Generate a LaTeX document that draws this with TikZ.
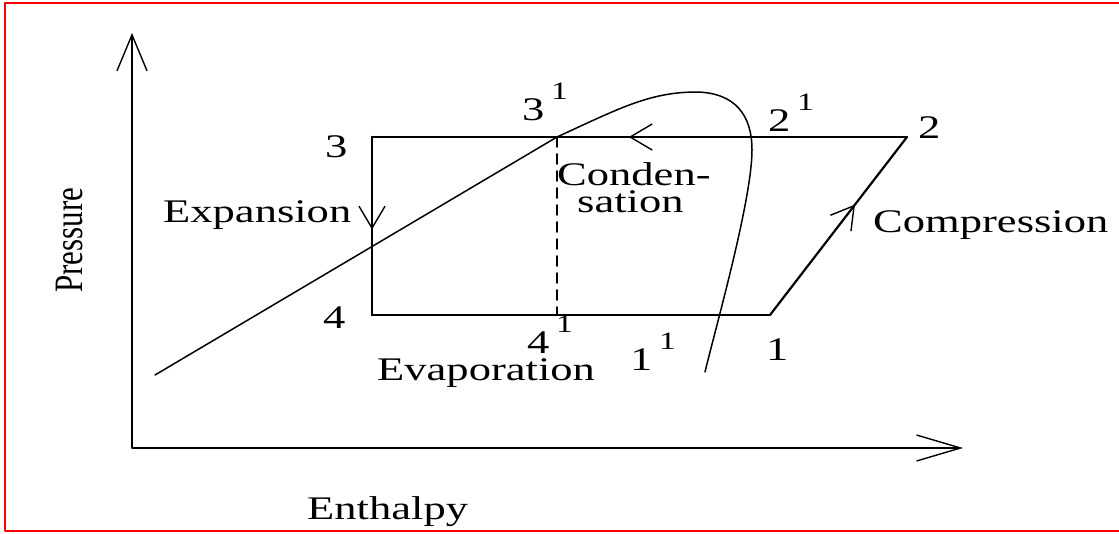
\documentclass[tikz,border=0pt]{standalone}
\usepackage{fontspec}
\setmainfont[FakeStretch=1.35]{Liberation Serif}
\newfontfamily\plainserif{Liberation Serif}
\usepackage{tikz}
\usetikzlibrary{arrows.meta,decorations.markings}

\newcommand{\upone}[1]{#1\hspace{0.2em}\raisebox{0.62em}{\fontsize{25}{28}\selectfont 1}}

\begin{document}
\begin{tikzpicture}[x=1pt,y=-1pt,line join=round,line cap=round,
    lbl/.style={font=\fontsize{33}{38}\selectfont,inner sep=0pt,anchor=base west},
    axisline/.style={line width=2pt},
    loopline/.style={line width=2.2pt},
    flowmark/.style={postaction={decorate,decoration={markings,
        mark=at position #1 with {\arrow{Straight Barb[length=22pt,width=26pt,line width=1.4pt]}}}}}]
      \useasboundingbox (0,0) rectangle (1119,533);
      \draw[red,line width=2pt] (1119,3) -- (5,3) -- (5,531) -- (1119,531);

      \coordinate (origin) at (132,448);
      \coordinate (ytip) at (132,33);
      \coordinate (xtip) at (963,448);

      \coordinate (p1) at (770,315);
      \coordinate (p2) at (907,137);
      \coordinate (p3) at (372,137);
      \coordinate (p4) at (372,315);

      \coordinate (liqstart) at (155,375);
      \coordinate (sat3) at (557,137);
      \coordinate (sat4) at (557,315);
      \coordinate (peak) at (697,92);
      \coordinate (vapend) at (705,372);

      % axes
      \draw[axisline,{Straight Barb[length=36pt,width=30pt,line width=1.4pt]}-{Straight Barb[length=44pt,width=26pt,line width=1.4pt]}]
        (ytip) -- (origin) -- (xtip);

      % saturation dome
      \draw[line width=1.5pt] (liqstart) -- (sat3)
        .. controls (620,108) and (650,92) .. (peak)
        .. controls (735,93) and (752,115) .. (752,150)
        .. controls (752,200) and (715,330) .. (vapend);

      % cycle
      \draw[loopline,flowmark=0.62] (p1) -- (p2);
      \draw[loopline,flowmark=0.52] (p2) -- (p3);
      \draw[loopline,flowmark=0.52] (p3) -- (p4);
      \draw[loopline] (p4) -- (p1);
      \draw[line width=1.6pt,dash pattern=on 10pt off 7pt] (sat3) -- (sat4);

      \node[lbl] (l3s) at (522,120) {\upone{3}};
      \node[lbl] (l2s) at (768,131) {\upone{2}};
      \node[lbl] (l4s) at (527,353) {\upone{4}};
      \node[lbl] (l1s) at (630,370) {\upone{1}};
      \node[lbl] (l2) at (918,138) {2};
      \node[lbl] (l3) at (325,157) {3};
      \node[lbl] (l4) at (323,328) {4};
      \node[lbl] (l1) at (766,360) {1};

      \node[lbl] (cond1) at (557,185) {Conden-};
      \node[lbl] (cond2) at (577,212) {sation};
      \node[lbl] (expan) at (163,222) {Expansion};
      \node[lbl] (compr) at (873,232) {Compression};
      \node[lbl] (evap) at (377,380) {Evaporation};
      \node[lbl] (xlabel) at (307,519) {Enthalpy};
      \node[rotate=90,anchor=base west,inner sep=0pt,font=\plainserif\fontsize{31}{36}\selectfont] (ylabel) at (82,293)
        {\scalebox{1}[1.3]{Pressure}};
    \end{tikzpicture}
\end{document}
